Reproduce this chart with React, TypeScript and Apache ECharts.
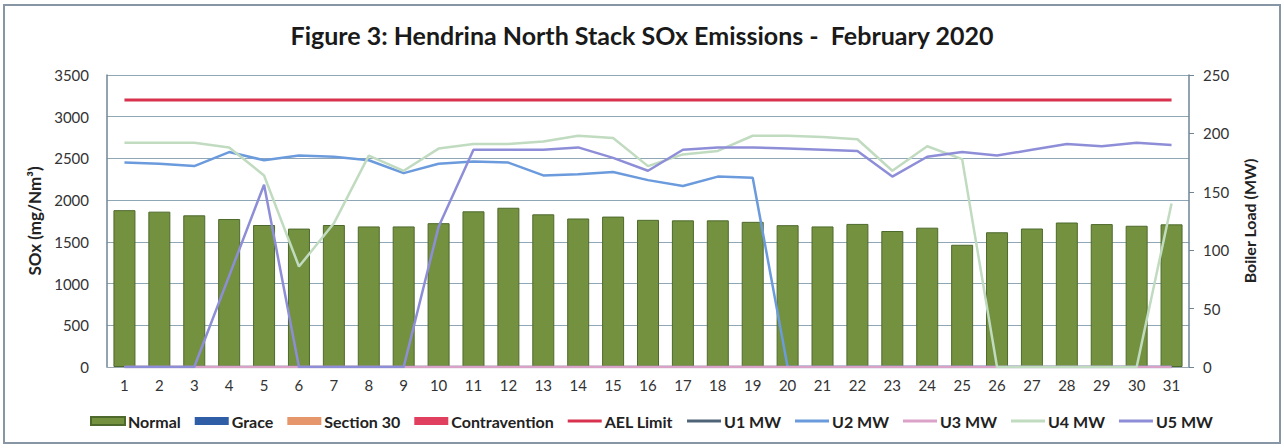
import React, { useEffect, useRef } from "react";
import * as echarts from "echarts";

const days = Array.from({ length: 31 }, (_, i) => String(i + 1));

const normal = [1880, 1862, 1818, 1774, 1702, 1659, 1702, 1685, 1685, 1724, 1866, 1909, 1830, 1780, 1803, 1764, 1758, 1758, 1740, 1700, 1685, 1715, 1630, 1670, 1465, 1615, 1660, 1732, 1713, 1693, 1710];
const grace = [0, 0, 0, 0, 0, 0, 0, 0, 0, 0, 0, 0, 0, 0, 0, 0, 0, 0, 0, 0, 0, 0, 0, 0, 0, 0, 0, 0, 0, 0, 0];
const section30 = [0, 0, 0, 0, 0, 0, 0, 0, 0, 0, 0, 0, 0, 0, 0, 0, 0, 0, 0, 0, 0, 0, 0, 0, 0, 0, 0, 0, 0, 0, 0];
const contravention = [0, 0, 0, 0, 0, 0, 0, 0, 0, 0, 0, 0, 0, 0, 0, 0, 0, 0, 0, 0, 0, 0, 0, 0, 0, 0, 0, 0, 0, 0, 0];
const aelLimit = [3200, 3200, 3200, 3200, 3200, 3200, 3200, 3200, 3200, 3200, 3200, 3200, 3200, 3200, 3200, 3200, 3200, 3200, 3200, 3200, 3200, 3200, 3200, 3200, 3200, 3200, 3200, 3200, 3200, 3200, 3200];
const u1 = [0, 0, 0, 0, 0, 0, 0, 0, 0, 0, 0, 0, 0, 0, 0, 0, 0, 0, 0, 0, 0, 0, 0, 0, 0, 0, 0, 0, 0, 0, 0];
const u2 = [175, 174, 172, 184, 177, 181, 180, 177, 166, 174, 176, 175, 164, 165, 167, 160, 155, 163, 162, 0, 0, 0, 0, 0, 0, 0, 0, 0, 0, 0, 0];
const u3 = [0, 0, 0, 0, 0, 0, 0, 0, 0, 0, 0, 0, 0, 0, 0, 0, 0, 0, 0, 0, 0, 0, 0, 0, 0, 0, 0, 0, 0, 0, 0];
const u4 = [192, 192, 192, 188, 164, 86, 123, 181, 168, 187, 191, 191, 193, 198, 196, 172, 182, 185, 198, 198, 197, 195, 168, 189, 178, 0, 0, 0, 0, 0, 140];
const u5 = [0, 0, 0, 78, 156, 0, 0, 0, 0, 120, 186, 186, 186, 188, 179, 168, 186, 188, 188, 187, 186, 185, 163, 180, 184, 181, 186, 191, 189, 192, 190];

const leftTicks = { min: 0, max: 3500, interval: 500 };
const rightTicks = { min: 0, max: 250, interval: 50 };

const FONT = "Lato";
const LINE_ICON = "path://M0,0H34V3H0Z";

export default function App() {
  const ref = useRef<HTMLDivElement>(null);
  useEffect(() => {
    const chart = echarts.init(ref.current!, null, { renderer: "svg" });
    const lineSeries = (name: string, data: number[], color: string, yIdx: number, width = 2.5) => ({
      name,
      type: "line",
      data,
      yAxisIndex: yIdx,
      symbol: "none",
      showSymbol: false,
      lineStyle: { color, width },
      itemStyle: { color },
    });
    const barSeries = (name: string, data: number[], color: string, border?: string) => ({
      name,
      type: "bar",
      stack: "sox",
      data,
      barWidth: 22,
      itemStyle: { color, borderColor: border || color, borderWidth: border ? 1 : 0 },
    });
    chart.setOption({
      animation: false,
      backgroundColor: "#ffffff",
      title: {
        text: "Figure 3: Hendrina North Stack SOx Emissions -  February 2020",
        left: "center",
        top: 17,
        textStyle: { fontFamily: FONT, fontSize: 25, fontWeight: "bold", color: "#1a1a1a" },
      },
      graphic: [
        {
          type: "rect",
          shape: { x: 4, y: 5, width: 1276, height: 438 },
          style: { fill: "none", stroke: "#8796a5", lineWidth: 2 },
          silent: true,
        },
      ],
      legend: {
        left: 85,
        top: 408,
        itemGap: 14,
        itemWidth: 34,
        itemHeight: 8,
        textStyle: { fontFamily: FONT, fontSize: 16, fontWeight: "bold", color: "#222", padding: [0, 0, 0, -2] },
        data: [
          { name: "Normal", icon: "rect" },
          { name: "Grace", icon: "rect" },
          { name: "Section 30", icon: "rect" },
          { name: "Contravention", icon: "rect" },
          { name: "AEL Limit", icon: LINE_ICON },
          { name: "U1 MW", icon: LINE_ICON },
          { name: "U2 MW", icon: LINE_ICON },
          { name: "U3 MW", icon: LINE_ICON },
          { name: "U4 MW", icon: LINE_ICON },
          { name: "U5 MW", icon: LINE_ICON },
        ],
      },
      grid: { left: 107, right: 95, top: 75, bottom: 81 },
      xAxis: {
        type: "category",
        data: days,
        axisLine: { show: true, lineStyle: { color: "#9aa8b4", width: 1 } },
        axisTick: { show: false },
        axisLabel: { fontFamily: FONT, fontSize: 15, color: "#333", margin: 10 },
      },
      yAxis: [
        {
          type: "value",
          ...leftTicks,
          name: "SOx (mg/Nm³)",
          nameLocation: "middle",
          nameGap: 50,
          nameTextStyle: { fontFamily: FONT, fontSize: 17, fontWeight: "bold", color: "#222" },
          axisLine: { show: true, lineStyle: { color: "#6f8596", width: 1.5 } },
          axisTick: { show: false },
          axisLabel: { fontFamily: FONT, fontSize: 15, color: "#333", margin: 18, formatter: (v: number) => String(v) },
          splitLine: { show: true, lineStyle: { color: "#8fa6b7", width: 1 } },
        },
        {
          type: "value",
          ...rightTicks,
          name: "Boiler Load (MW)",
          nameLocation: "middle",
          nameRotate: 90,
          nameGap: 52,
          nameTextStyle: { fontFamily: FONT, fontSize: 16, fontWeight: "bold", color: "#222" },
          axisLine: { show: true, lineStyle: { color: "#6f8596", width: 1.5 } },
          axisTick: { show: true, length: 5, lineStyle: { color: "#6f8596" } },
          axisLabel: { fontFamily: FONT, fontSize: 15, color: "#333", margin: 14, formatter: (v: number) => String(v) },
          splitLine: { show: false },
        },
      ],
      series: [
        barSeries("Normal", normal, "#74913f", "#4d6a2c"),
        barSeries("Grace", grace, "#2f5ea6"),
        barSeries("Section 30", section30, "#e5966a"),
        barSeries("Contravention", contravention, "#e0405e"),
        lineSeries("AEL Limit", aelLimit, "#d8324e", 0, 3),
        lineSeries("U1 MW", u1, "#4f6478", 1),
        lineSeries("U2 MW", u2, "#6b9bdc", 1),
        lineSeries("U3 MW", u3, "#dba2c8", 1),
        lineSeries("U4 MW", u4, "#c0dbc0", 1),
        lineSeries("U5 MW", u5, "#8e8ed8", 1),
      ],
    });
    return () => chart.dispose();
  }, []);
  return (
    <div
      ref={ref}
      style={{ position: "fixed", left: 0, top: 0, width: 1284, height: 448, background: "#fff" }}
    />
  );
}
